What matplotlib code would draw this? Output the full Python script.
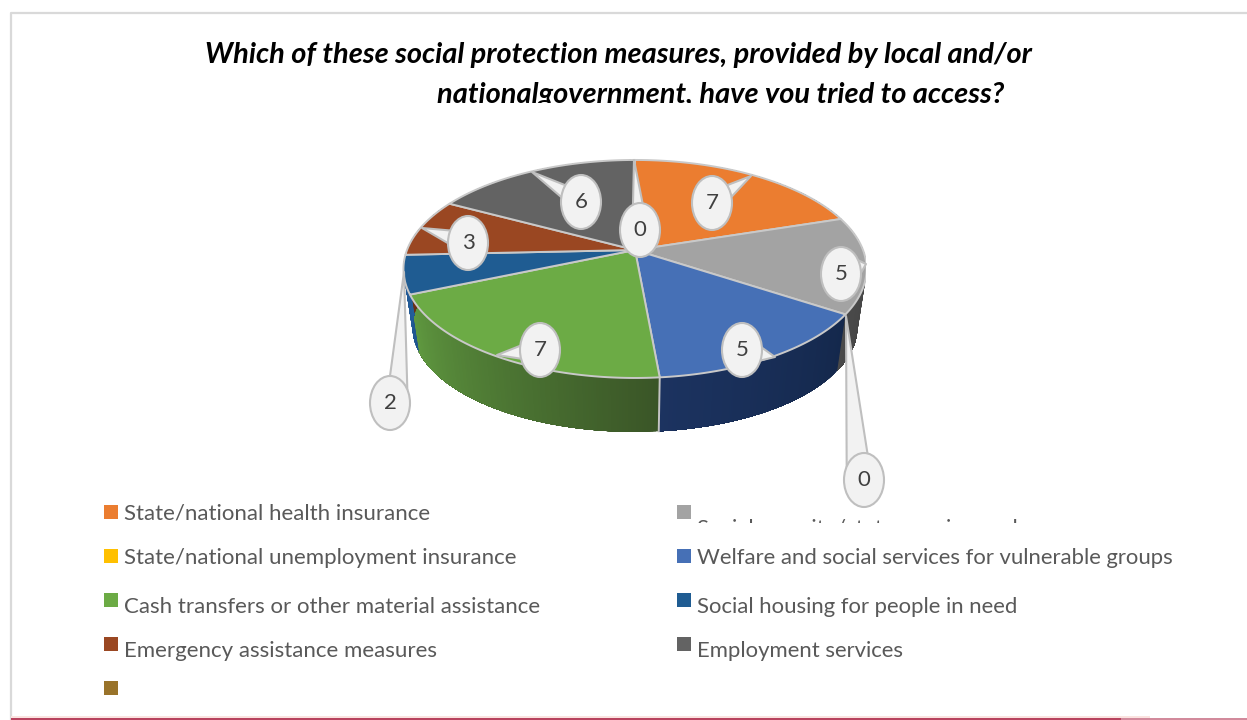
import numpy as np
import matplotlib
matplotlib.use("Agg")
import matplotlib.pyplot as plt
from matplotlib.colors import to_rgb
from matplotlib.patches import Ellipse, Polygon, Rectangle

plt.rcParams['font.family'] = ['Lato', 'DejaVu Sans']

# survey answers, clockwise from 12 o'clock
values = [7, 5, 0, 5, 7, 2, 3, 6, 0]
top_colors = ["#EB7D30", "#A3A3A3", "#FFC000", "#4670B6", "#6CAB45", "#1F5C92", "#9A4722", "#636363", "#99732A"]
# side wall colours, start and end of each slice going clockwise
side_start = ["#7a4018", "#404040", "#404040", "#14284c", "#3a5527", "#1f5590", "#6a3015", "#444444", "#444444"]
side_end = ["#7a4018", "#4a4a4a", "#404040", "#1c3360", "#609a40", "#255f9c", "#6a3015", "#444444", "#444444"]

legend_left = ["State/national health insurance", "State/national unemployment insurance",
               "Cash transfers or other material assistance", "Emergency assistance measures", ""]
legend_left_idx = [0, 2, 4, 6, 8]
legend_left_key_y = [505, 549, 593, 637, 681]
legend_left_text_y = [513, 558, 607, 651, 693]
legend_right = ["Social security/state pension and", "Welfare and social services for vulnerable groups",
                "Social housing for people in need", "Employment services"]
legend_right_idx = [1, 3, 5, 7]
legend_right_key_y = [505, 549, 593, 637]
legend_right_text_y = [529, 558, 607, 651]

# label text, bubble centre and where its tail points
bubble_text = ["7", "5", "0", "5", "7", "2", "3", "6", "0"]
bubble_x = [712, 841, 640, 742, 540, 390, 468, 581, 864]
bubble_y = [203, 274, 230, 350, 350, 403, 243, 202, 480]
tail_x = [751, 866, 634, 775, 497, 404, 422, 532, 846]
tail_y = [176, 264, 160, 357, 355, 272, 228, 172, 316]
# angles on the bubble where the long tails start
tail_base = [None, None, None, None, None, (-90, -30), None, None, (-150, -80)]

# pie geometry, in pixels
cx, cy = 635, 250
top_w, top_h = 228, 105.7
bot_w, bot_h = 219, 101.5
bot_cy = 309
tilt = 0.174


def project(theta, w, h, y0):
    X, Y = np.sin(theta), np.cos(theta)
    d = 1 + tilt * Y
    return cx + w * X / d, y0 - h * Y / d


fig = plt.figure(figsize=(12.47, 7.2), dpi=100)
ax = fig.add_axes([0, 0, 1, 1])
ax.set_xlim(0, 1247)
ax.set_ylim(720, 0)
ax.axis("off")

# frame around the chart
ax.plot([10.5, 10.5, 1247], [720, 12.5, 12.5], color="#d9d9d9", lw=1.6, zorder=1)
ax.add_patch(Rectangle((11, 716), 1139, 4, fc="#fbe3e0", ec="none", zorder=1))
ax.add_patch(Rectangle((920, 718), 327, 2, fc="#d28a9c", ec="none", zorder=1))
ax.add_patch(Rectangle((11, 718), 1110, 2, fc="#b8435f", ec="none", zorder=1))

# title, second line is cut off by its box
ax.text(205, 55, "Which of these social protection measures, provided by local and/or", fontsize=20.85,
        fontweight="bold", style="italic", color="black", va="center", ha="left")
t2 = ax.text(437, 95, "nationalgovernment, have you tried to access?", fontsize=20.9,
             fontweight="bold", style="italic", color="black", va="center", ha="left")
t2.set_clip_on(True)
t2.set_clip_path(Rectangle((0, 0), 1247, 102.5, transform=ax.transData))

# slices
edges = np.cumsum([0] + values) / sum(values) * 2 * np.pi
chart_clip = Rectangle((0, 0), 866, 720, transform=ax.transData)

# side wall, split in strips to get the shading
for i, v in enumerate(values):
    if v == 0:
        continue
    c0 = np.array(to_rgb(side_start[i]))
    c1 = np.array(to_rgb(side_end[i]))
    n = 120
    steps = np.linspace(edges[i], edges[i + 1], n + 1)
    for j in range(n):
        # each strip runs to the far end of the slice, the next one paints over it
        arc = np.linspace(steps[j], edges[i + 1], 60)
        xt, yt = project(arc, top_w, top_h, cy)
        xb, yb = project(arc[::-1], bot_w, bot_h, bot_cy)
        f = (j + 0.5) / n
        col = c0 * (1 - f) + c1 * f
        p = Polygon(np.column_stack([np.r_[xt, xb], np.r_[yt, yb]]), fc=col, ec="none", zorder=2)
        ax.add_patch(p)
        p.set_clip_path(chart_clip)

# seam between green and blue on the wall
xs, ys = project(edges[4], top_w, top_h, cy)
xe, ye = project(edges[4], bot_w, bot_h, bot_cy)
ax.plot([xs, xe], [ys, ye], color="#c4c4c4", lw=1.4, zorder=2.5)

for i, v in enumerate(values):
    if v == 0:
        continue
    arc = np.linspace(edges[i], edges[i + 1], 80)
    xa, ya = project(arc, top_w, top_h, cy)
    pts = np.column_stack([np.r_[cx, xa], np.r_[cy, ya]])
    p = Polygon(pts, closed=True, fc=top_colors[i], ec="#c9c9c9", lw=1.4, joinstyle="round", zorder=3)
    ax.add_patch(p)
    p.set_clip_path(chart_clip)

# label bubbles
bw, bh = 20, 27
for i in range(len(values)):
    dx, dy = tail_x[i] - bubble_x[i], tail_y[i] - bubble_y[i]
    if tail_base[i] is None:
        ang = np.degrees(np.arctan2(dy / bh, dx / bw))
        a0, a1 = ang - 14, ang + 14
    else:
        a0, a1 = tail_base[i]
    base = [(bubble_x[i] + bw * np.cos(np.radians(a)), bubble_y[i] + bh * np.sin(np.radians(a))) for a in (a0, a1)]
    ax.add_patch(Polygon([base[0], (tail_x[i], tail_y[i]), base[1]], closed=True, fc="#f2f2f2", ec="#bfbfbf",
                         lw=1.5, joinstyle="round", zorder=4))
    ax.add_patch(Ellipse((bubble_x[i], bubble_y[i]), 2 * bw, 2 * bh, fc="#f2f2f2", ec="#bfbfbf", lw=1.5, zorder=5))
    ax.text(bubble_x[i], bubble_y[i], bubble_text[i], fontsize=16, color="#404040", ha="center", va="center",
            zorder=6)

# legend, two columns
for label, k, ky, ty in zip(legend_left, legend_left_idx, legend_left_key_y, legend_left_text_y):
    ax.add_patch(Rectangle((104, ky), 14, 14, fc=top_colors[k], ec="none"))
    ax.text(124, ty, label, fontsize=16.05, color="#595959", ha="left", va="center")
for label, k, ky, ty in zip(legend_right, legend_right_idx, legend_right_key_y, legend_right_text_y):
    ax.add_patch(Rectangle((677, ky), 14, 14, fc=top_colors[k], ec="none"))
    t = ax.text(697, ty, label, fontsize=15.93, color="#595959", ha="left", va="center")
    # first row is cut off at the bottom of its box
    if k == 1:
        t.set_clip_on(True)
        t.set_clip_path(Rectangle((0, 0), 1247, 523, transform=ax.transData))

fig.savefig("out.png", dpi=100)
